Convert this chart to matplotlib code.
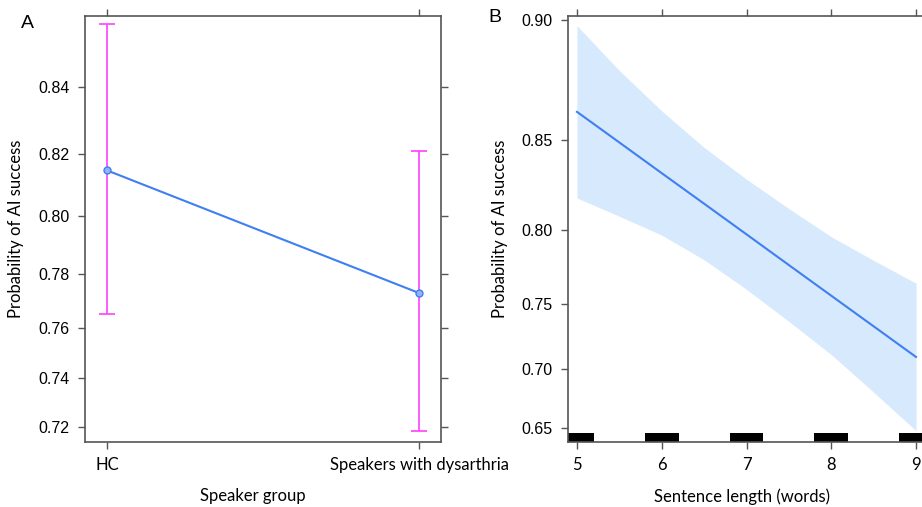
import numpy as np
import matplotlib
matplotlib.use("Agg")
import matplotlib.pyplot as plt
import matplotlib.ticker as mticker
import matplotlib.transforms as mtransforms

# panel A: effect of speaker group (probability scale, logit axis)
groups = ["HC", "Speakers with dysarthria"]
group_fit = [0.815, 0.773]
group_lo = [0.765, 0.718]
group_hi = [0.857, 0.821]
a_ticks = [0.72, 0.74, 0.76, 0.78, 0.80, 0.82, 0.84]

# panel B: effect of sentence length
sent_len = [5, 5.5, 6, 6.5, 7, 7.5, 8, 8.5, 9]
sent_fit = [0.8632, 0.8486, 0.8327, 0.8156, 0.7971, 0.7772, 0.7560, 0.7335, 0.7097]
sent_hi = [0.8980, 0.8810, 0.8636, 0.8461, 0.8294, 0.8127, 0.7956, 0.7803, 0.7648]
sent_lo = [0.8189, 0.8082, 0.7966, 0.7807, 0.7605, 0.7372, 0.7116, 0.6808, 0.6477]
b_ticks = [0.65, 0.70, 0.75, 0.80, 0.85, 0.90]
rug_x = [5, 6, 7, 8, 9]

blue = "#3F7FF2"
band = "#D7E9FD"
magenta = "#FF40FF"
spine = "#555555"
num_font = "Liberation Sans"
txt_font = "Lato"

fig = plt.figure(figsize=(9.22, 5.07), dpi=100)
axA = fig.add_axes([85/922, 65/507, 356/922, 426/507])
axB = fig.add_axes([568/922, 65/507, 357/922, 426/507])

def style(ax):
    for s in ax.spines.values():
        s.set_color(spine)
        s.set_linewidth(1.2)
    ax.tick_params(which="major", direction="out", length=5, width=1.0, color=spine,
                   top=True, right=True, labeltop=False, labelright=False)
    ax.tick_params(axis="y", pad=6)
    ax.tick_params(axis="x", pad=6, labelsize=12)
    ax.yaxis.set_minor_locator(mticker.NullLocator())
    ax.yaxis.set_minor_formatter(mticker.NullFormatter())
    ax.yaxis.set_major_formatter(mticker.FormatStrFormatter("%.2f"))
    for lab in ax.get_yticklabels():
        lab.set_fontfamily(num_font)
        lab.set_fontsize(11.5)
    for lab in ax.get_xticklabels():
        lab.set_fontfamily(txt_font)

# --- A
xa = np.arange(len(groups))
axA.set_yscale("logit")
yerr = [np.array(group_fit) - np.array(group_lo), np.array(group_hi) - np.array(group_fit)]
axA.errorbar(xa, group_fit, yerr=yerr, fmt="none", ecolor=magenta, elinewidth=1.2,
             capsize=6, capthick=1.2)
axA.plot(xa, group_fit, color=blue, lw=1.5, marker="o", ms=5, mfc="#8FB4F8", mec=blue)
axA.set_xlim(-0.0705, 1.0705)
axA.set_ylim(0.7135, 0.859)
axA.set_xticks(xa)
axA.set_xticklabels(groups)
axA.set_yticks(a_ticks)
style(axA)
axA.set_xlabel("Speaker group", fontfamily=txt_font, fontsize=12)
axA.xaxis.set_label_coords(0.47, -0.108)
axA.set_ylabel("Probability of AI success", fontfamily=txt_font, fontsize=12, labelpad=10)

# --- B
axB.set_yscale("logit")
axB.fill_between(sent_len, sent_lo, sent_hi, color=band, lw=0)
axB.plot(sent_len, sent_fit, color=blue, lw=1.5)
trans = mtransforms.blended_transform_factory(axB.transData, axB.transAxes)
for r in rug_x:
    axB.add_patch(plt.Rectangle((r - 0.2, 0), 0.4, 0.022, transform=trans,
                                color="black", lw=0, clip_on=True))
axB.set_xlim(4.894, 9.106)
axB.set_ylim(0.6376, 0.9014)
axB.set_xticks(rug_x)
axB.set_yticks(b_ticks)
style(axB)
axB.set_xlabel("Sentence length (words)", fontfamily=txt_font, fontsize=12)
axB.xaxis.set_label_coords(0.487, -0.108)
axB.set_ylabel("Probability of AI success", fontfamily=txt_font, fontsize=12, labelpad=10)

fig.text(27/922, 1 - 24/507, "A", fontfamily=num_font, fontsize=14, ha="center", va="center")
fig.text(495/922, 1 - 18/507, "B", fontfamily=num_font, fontsize=14, ha="center", va="center")

fig.savefig("out.png", dpi=100)
